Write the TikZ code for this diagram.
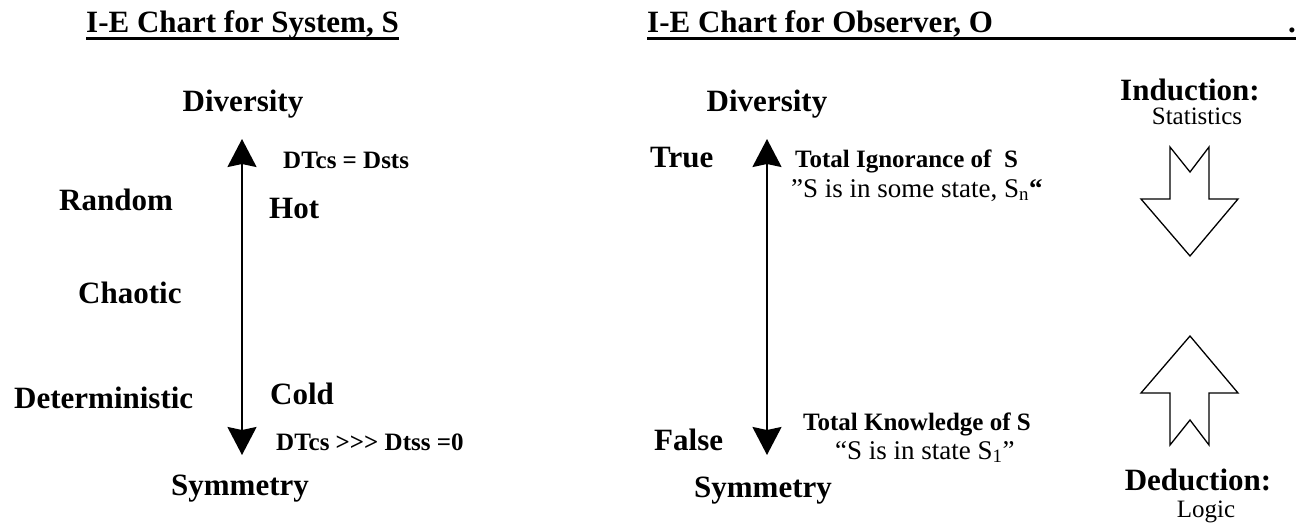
\documentclass[tikz,border=0pt]{standalone}
\usepackage{fontspec}
\setmainfont{Liberation Serif}
\usetikzlibrary{arrows.meta}

\tikzstyle{big} = [inner sep=0pt, font=\fontsize{31}{36}\selectfont\bfseries]
\tikzstyle{small} = [inner sep=0pt, font=\fontsize{25}{30}\selectfont\bfseries]
\tikzstyle{plain} = [inner sep=0pt, font=\fontsize{27}{32}\selectfont]
\tikzstyle{note} = [inner sep=0pt, font=\fontsize{25}{30}\selectfont]
\tikzstyle{axis} = [line width=2pt, {Stealth[length=28pt,width=29pt,inset=3pt]}-{Stealth[length=28pt,width=29pt,inset=3pt]}]
\tikzstyle{uline} = [line width=2.7pt]
\tikzstyle{block} = [line width=1.3pt, line join=miter]

\begin{document}
\begin{tikzpicture}[x=1pt, y=-1pt]
  \useasboundingbox (0,0) rectangle (1296,525);

  \node[big, anchor=base west] (tS) at (86,32) {I-E Chart for System, S};
  \node[big, anchor=base west] (tO) at (647,32) {I-E Chart for Observer, O};
  \node[big, anchor=base west] (dotO) at (1288,32) {.};
  \draw[uline] ([yshift=-6.5pt]tS.base west) -- ([yshift=-6.5pt]tS.base east);
  \draw[uline] ([yshift=-6.5pt]tO.base west) -- ([yshift=-6.5pt]dotO.base east);

  \node[big, anchor=base] (divS) at (243,111) {Diversity};
  \node[small, anchor=base west] (dtHot) at (283,168) {DTcs = Dsts};
  \node[big, anchor=base west] (random) at (59,210) {Random};
  \node[big, anchor=base west] (hot) at (269,218) {Hot};
  \node[big, anchor=base west] (chaotic) at (78,303) {Chaotic};
  \node[big, anchor=base west] (determ) at (14,408) {Deterministic};
  \node[big, anchor=base west] (cold) at (270,404) {Cold};
  \node[small, anchor=base west] (dtCold) at (276,450) {DTcs {>}{>}{>} Dtss =0};
  \node[big, anchor=base] (symS) at (240,495) {Symmetry};
  \coordinate (sTop) at (242,139);
  \coordinate (sBot) at (242,455);
  \draw[axis] (sBot) -- (sTop);

  \node[big, anchor=base] (divO) at (767,111) {Diversity};
  \node[big, anchor=base west] (true) at (650,167) {True};
  \node[small, anchor=base west] (ignor) at (795,167) {Total Ignorance of~~S};
  \node[plain, anchor=base west] (ignorQ) at (791,197) {”S is in some state, S\textsubscript{n}\textbf{“}};
  \node[small, anchor=base west] (know) at (803,430) {Total Knowledge of S};
  \node[plain, anchor=base west] (knowQ) at (835,459) {“S is in state S\textsubscript{1}”};
  \node[big, anchor=base west] (false) at (654,450) {False};
  \node[big, anchor=base] (symO) at (763,497) {Symmetry};
  \coordinate (oTop) at (767,139);
  \coordinate (oBot) at (767,455);
  \draw[axis] (oBot) -- (oTop);

  \node[big, anchor=base] (induct) at (1190,100) {Induction:};
  \node[note, anchor=base] (stats) at (1197,124) {Statistics};
  \node[big, anchor=base] (deduct) at (1198,490) {Deduction:};
  \node[note, anchor=base] (logic) at (1206,517) {Logic};
  \draw[block] (1170,147) -- (1190,172) -- (1209,147) -- (1209,199) -- (1238,199)
    -- (1190,256) -- (1141,199) -- (1170,199) -- cycle;
  \draw[block] (1170,445) -- (1190,420) -- (1209,445) -- (1209,393) -- (1238,393)
    -- (1190,336) -- (1141,393) -- (1170,393) -- cycle;
\end{tikzpicture}
\end{document}
